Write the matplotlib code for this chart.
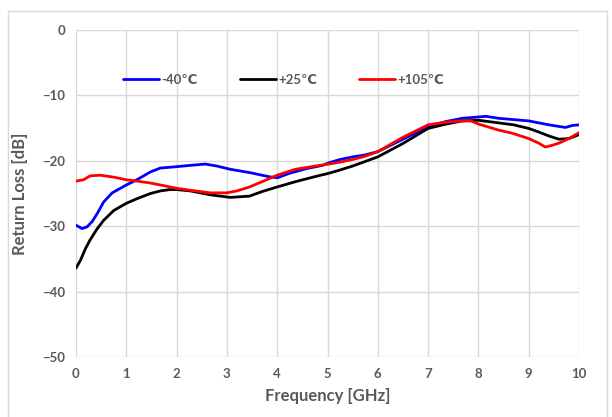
import matplotlib
matplotlib.use("Agg")
import matplotlib.pyplot as plt
from matplotlib.patches import Rectangle

plt.rcParams['font.family'] = ['Lato', 'DejaVu Sans']

# Return loss vs frequency at three temperatures
freq_m40 = [0, 0.12, 0.22, 0.32, 0.42, 0.55, 0.72, 1.0, 1.21, 1.48, 1.68, 2.0,
            2.27, 2.57, 2.8, 3.07, 3.45, 3.85, 4.0, 4.25, 4.58, 4.9, 5.03, 5.25,
            5.5, 5.75, 6.0, 6.5, 7.0, 7.35, 7.68, 8.0, 8.15, 8.4, 8.7, 9.0, 9.2,
            9.4, 9.73, 9.87, 10.0]
rl_m40 = [-29.85, -30.36, -30.1, -29.3, -28.1, -26.3, -24.9, -23.7, -22.9, -21.7,
          -21.1, -20.9, -20.7, -20.5, -20.8, -21.3, -21.8, -22.45, -22.6, -21.9,
          -21.2, -20.7, -20.3, -19.8, -19.4, -19.1, -18.6, -16.7, -14.8, -14.0,
          -13.5, -13.3, -13.2, -13.5, -13.7, -13.9, -14.2, -14.5, -14.9, -14.6,
          -14.5]

freq_p25 = [0, 0.09, 0.19, 0.28, 0.42, 0.55, 0.75, 1.0, 1.21, 1.48, 1.68, 1.87,
            2.0, 2.27, 2.67, 3.07, 3.45, 3.7, 4.0, 4.36, 4.76, 5.03, 5.25, 5.5,
            5.75, 6.0, 6.5, 7.0, 7.35, 7.68, 8.0, 8.4, 8.7, 9.0, 9.2, 9.4, 9.6,
            9.8, 10.0]
rl_p25 = [-36.4, -35.2, -33.4, -32.1, -30.4, -29.1, -27.6, -26.5, -25.8, -25.0,
          -24.6, -24.4, -24.4, -24.6, -25.2, -25.6, -25.4, -24.7, -24.0, -23.2,
          -22.4, -21.9, -21.4, -20.8, -20.1, -19.4, -17.35, -15.05, -14.4, -13.9,
          -13.8, -14.2, -14.5, -15.05, -15.6, -16.2, -16.7, -16.6, -16.0]

freq_p105 = [0, 0.15, 0.28, 0.48, 0.75, 1.0, 1.21, 1.48, 1.68, 2.0, 2.27, 2.67,
             3.0, 3.2, 3.45, 3.85, 4.0, 4.36, 4.76, 5.03, 5.25, 5.5, 5.75, 6.0,
             6.5, 7.0, 7.35, 7.68, 7.85, 8.01, 8.4, 8.68, 9.0, 9.2, 9.33, 9.48,
             9.6, 9.8, 10.0]
rl_p105 = [-23.1, -22.9, -22.3, -22.2, -22.5, -22.9, -23.1, -23.4, -23.7, -24.2,
           -24.5, -24.9, -24.9, -24.6, -24.0, -22.7, -22.2, -21.3, -20.8, -20.5,
           -20.2, -19.8, -19.3, -18.6, -16.4, -14.5, -14.1, -13.9, -13.9, -14.4,
           -15.3, -15.8, -16.6, -17.3, -17.9, -17.6, -17.3, -16.6, -15.7]

series_labels = ['-40\u2103', '+25\u2103', '+105\u2103']
series_colors = ['#0000ff', '#000000', '#ff0000']

x_ticks = list(range(0, 11))
y_ticks = [0, -10, -20, -30, -40, -50]

W, H = 612, 417
fig = plt.figure(figsize=(W / 100, H / 100), dpi=100)
fig.patch.set_facecolor('white')

# chart-area frame
fig.patches.append(Rectangle((8 / W, -0.05), 599 / W, (H - 10.5) / H + 0.05,
                             transform=fig.transFigure, fill=False,
                             edgecolor='#d9d9d9', linewidth=1.0))

ax = fig.add_axes([76 / W, 1 - 357 / H, 503 / W, 327 / H])
for f, v, lab, c in zip([freq_m40, freq_p25, freq_p105],
                        [rl_m40, rl_p25, rl_p105],
                        series_labels, series_colors):
    ax.plot(f, v, color=c, linewidth=2.0, label=lab, solid_capstyle='round',
            solid_joinstyle='round')

ax.set_xlim(0, 10)
ax.set_ylim(-50, 0)
ax.set_xticks(x_ticks)
ax.set_yticks(y_ticks)
ax.grid(True, color='#d9d9d9', linewidth=1.0)
ax.set_axisbelow(True)
for s in ax.spines.values():
    s.set_visible(False)
ax.tick_params(length=0, labelsize=9.5, labelcolor='#595959', pad=8)
for t in ax.get_xticklabels() + ax.get_yticklabels():
    t.set_fontweight('bold')

ax.set_xlabel('Frequency [GHz]', fontsize=12, fontweight='bold',
              color='#595959', labelpad=6)
ax.set_ylabel('Return Loss [dB]', fontsize=12, fontweight='bold',
              color='#595959', labelpad=10)

leg = ax.legend(loc='center left', bbox_to_anchor=(0.07, 0.847), ncol=3,
                frameon=False, handlelength=2.7, columnspacing=3.2,
                handletextpad=0.2, prop={'size': 9.5, 'weight': 'bold'})
for t in leg.get_texts():
    t.set_color('#595959')

fig.savefig('out.png', dpi=100)
